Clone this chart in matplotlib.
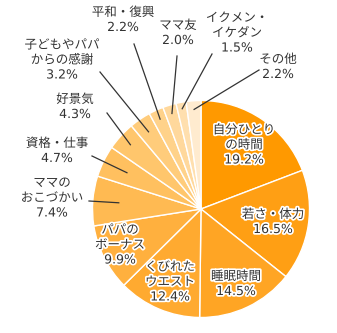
import matplotlib
matplotlib.use("Agg")
import matplotlib.pyplot as plt
import matplotlib.patheffects as pe
import numpy as np

plt.rcParams['font.family'] = ['DejaVu Sans', 'Noto Sans CJK JP']

categories = ["自分ひとり\nの時間", "若さ・体力", "睡眠時間", "くびれた\nウエスト", "パパの\nボーナス",
              "ママの\nおこづかい", "資格・仕事", "好景気", "子どもやパパ\nからの感謝", "平和・復興",
              "ママ友", "イクメン・\nイケダン", "その他"]
values = [19.2, 16.5, 14.5, 12.4, 9.9, 7.4, 4.7, 4.3, 3.2, 2.2, 2.0, 1.5, 2.2]

colors = ["#FF9900", "#FF9F14", "#FFA524", "#FFAA30", "#FFB03E", "#FFBA52", "#FFC05F",
          "#FFC66C", "#FFCC7B", "#FFD28A", "#FFD89C", "#FFDFAE", "#FFEBCF"]

# layout (pixel coords, top origin)
W, H = 337, 333
cx, cy, R = 201, 209, 108.5
label_pos = [(244, 145), (273, 222), (236, 284), (170, 282), (120, 245),
             (52, 198), (57, 151), (75, 107), (62, 60), (123, 20),
             (178, 33), (237, 33), (278, 67)]
# leader line: outer start (pixel) and inner radius fraction; None = inside label
leaders = [None, None, None, None, None,
           ((89, 201), 0.76), ((92, 156), 0.76), ((107, 113), 0.88), ((100, 72), 0.86),
           ((134, 44), 0.91), ((177, 56), 0.92), ((212, 54), 0.94), ((259, 70), 0.92)]

fig = plt.figure(figsize=(W / 100, H / 100), dpi=100)
ax = fig.add_axes([0, 0, 1, 1])

wedges, _ = ax.pie(values, colors=colors, startangle=90, counterclock=False,
                   center=(cx, H - cy), radius=R,
                   wedgeprops=dict(edgecolor='white', linewidth=1.0))
ax.set_xlim(0, W)
ax.set_ylim(0, H)
ax.set_aspect('equal')
ax.axis('off')

stroke = [pe.withStroke(linewidth=2.5, foreground='white')]
for w, cat, val, (lx, ly), ld in zip(wedges, categories, values, label_pos, leaders):
    txt = f"{cat}\n{val:.1f}%"
    ax.text(lx, H - ly, txt, ha='center', va='center', fontsize=9, color='#333333',
            linespacing=1.2, path_effects=stroke)
    if ld is not None:
        (sx, sy), frac = ld
        ang = np.deg2rad((w.theta1 + w.theta2) / 2)
        ex = cx + frac * R * np.cos(ang)
        ey = (H - cy) + frac * R * np.sin(ang)
        ax.plot([sx, ex], [H - sy, ey], color='#333333', linewidth=0.9)

fig.savefig("out.png", dpi=100)
